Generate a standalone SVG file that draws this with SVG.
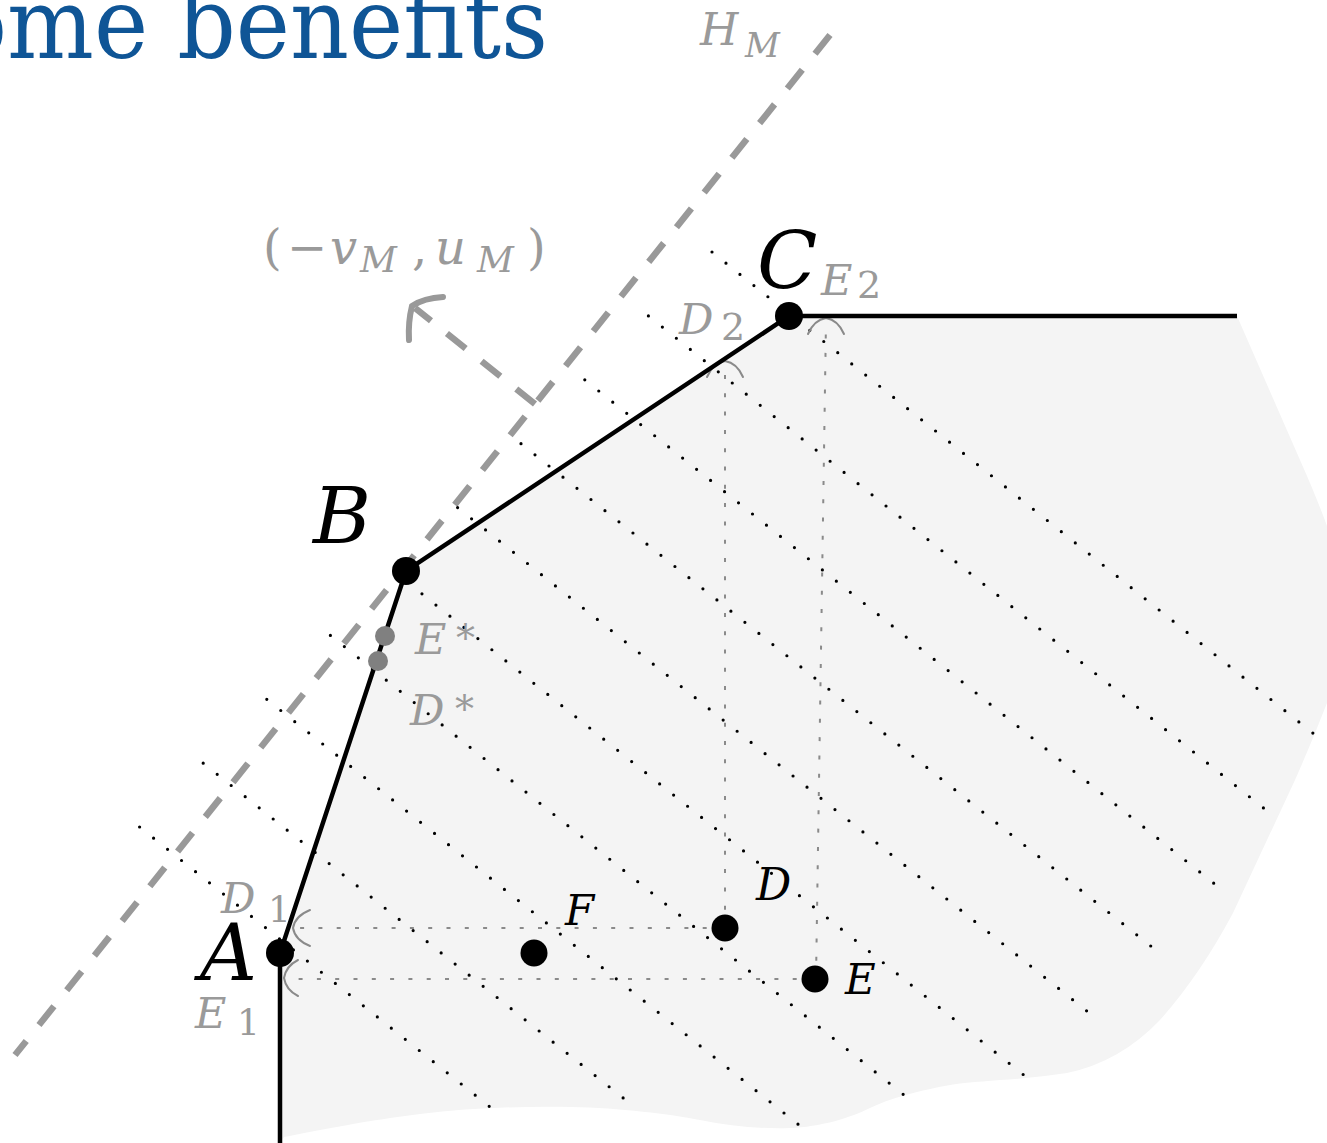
<svg xmlns="http://www.w3.org/2000/svg" width="1327" height="1143" viewBox="0 0 1327 1143">
<style>
text{font-family:"DejaVu Serif","Liberation Serif",serif}
.it{font-style:italic}
.blk{fill:#000}
.gry{fill:#9a9a9a}
.dotk{fill:none;stroke:#000;stroke-width:3.2;stroke-linecap:round;stroke-dasharray:0 17.9}
.dotg{fill:none;stroke:#8a8a8a;stroke-width:2;stroke-dasharray:4 14.3}
.tip{fill:none;stroke:#8a8a8a;stroke-width:2;stroke-linecap:round}
.dash{fill:none;stroke:#999;stroke-width:6.5;stroke-dasharray:24 20.4}
</style>
<rect width="1327" height="1143" fill="#fff"/>
<text x="-48" y="58" font-size="100" fill="#0f5596" textLength="596" lengthAdjust="spacingAndGlyphs">ome benefits</text>

<g id="region">
<path d="M280,953 L406,571 L789,316 L1237,316 L1300,460 Q1320,505 1332,540 L1332,690 Q1315,735 1295,780 L1233,913 Q1200,975 1160,1020 Q1120,1062 1067,1073 Q1035,1078 1000,1080 C975,1082 958,1083 939,1087 S890,1098 870,1108 S820,1127 790,1128 S730,1126 700,1120 S620,1108 571,1107 S470,1108 420,1114 S320,1130 284,1137 L280,1143 Z" fill="#f4f4f4"/>
</g>

<g id="connectors">
<path id="HM" class="dash" d="M830,35 L15,1055"/>
<g id="levels">
<path class="dotk" d="M712,252 L1314,734"/>
<path class="dotk" d="M648.4,315.9 L1266,810"/>
<path class="dotk" d="M584.8,379.8 L1216,885"/>
<path class="dotk" d="M521,443.7 L1152,947"/>
<path class="dotk" d="M457.6,507.6 L1088,1012"/>
<path class="dotk" d="M394,571.5 L1025,1076"/>
<path class="dotk" d="M330.4,635.4 L904,1095"/>
<path class="dotk" d="M266.8,699.3 L799,1125"/>
<path class="dotk" d="M203.2,763.2 L637,1109"/>
<path class="dotk" d="M139.6,827 L490,1107"/>
</g>
<g id="projections">
<path class="dotg" d="M725,928 L296,928"/>
<path class="dotg" d="M815,979 L286,979"/>
<path class="dotg" d="M725,928 L725,364"/>
<path class="dotg" d="M816,979 L826,321"/>
<path class="tip" d="M310,910 Q295,916 293,928 Q295,940 310,946"/>
<path class="tip" d="M298,960 Q286,966 284,978 Q286,990 298,996"/>
<path class="tip" d="M707,377 Q713,363 725,361 Q737,363 743,377"/>
<path class="tip" d="M808,334 Q814,320 826,318 Q838,320 844,334"/>
</g>
<g id="normal">
<path class="dash" d="M535,404 L415,308"/>
<path d="M443,297 Q424,298 412,306 Q408,322 409,340" fill="none" stroke="#999" stroke-width="6" stroke-linecap="round"/>
</g>
<path id="boundary" d="M280,1143 L280,953 L406,571 L789,316 L1237,316" fill="none" stroke="#000" stroke-width="4.5"/>
</g>

<g id="nodeA"><circle cx="280" cy="953" r="14" fill="#000"/><text x="200" y="980" class="it blk" font-size="79">A</text></g>
<g id="nodeB"><circle cx="406" cy="571" r="14" fill="#000"/><text x="313" y="543" class="it blk" font-size="79">B</text></g>
<g id="nodeC"><circle cx="789" cy="316" r="14" fill="#000"/><text x="757" y="288" class="it blk" font-size="79">C</text></g>
<g id="nodeF"><circle cx="534" cy="953" r="13.5" fill="#000"/><text x="565" y="925" class="it blk" font-size="42">F</text></g>
<g id="nodeD"><circle cx="725" cy="928" r="13.5" fill="#000"/><text x="756" y="900" class="it blk" font-size="44">D</text></g>
<g id="nodeE"><circle cx="815" cy="979" r="13.5" fill="#000"/><text x="845" y="994" class="it blk" font-size="42">E</text></g>
<g id="nodeEstar"><circle cx="385" cy="636" r="10" fill="#808080"/><text x="415" y="654" class="it gry" font-size="43">E</text><text x="456" y="651" class="gry" font-size="38">*</text></g>
<g id="nodeDstar"><circle cx="378" cy="661" r="10" fill="#808080"/><text x="410" y="725" class="it gry" font-size="43">D</text><text x="455" y="722" class="gry" font-size="38">*</text></g>

<g id="labels">
<text x="700" y="45" class="it gry" font-size="44">H</text><text x="745" y="57" class="it gry" font-size="34">M</text>
<text x="821" y="295" class="it gry" font-size="43">E</text><text x="857" y="298" class="gry" font-size="38">2</text>
<text x="679" y="334" class="it gry" font-size="43">D</text><text x="721" y="340" class="gry" font-size="38">2</text>
<text x="221" y="913" class="it gry" font-size="43">D</text><text x="268" y="922" class="gry" font-size="36">1</text>
<text x="195" y="1028" class="it gry" font-size="43">E</text><text x="237" y="1035" class="gry" font-size="36">1</text>
<text x="263" y="264" class="gry" font-size="48">(</text>
<text x="287" y="264" class="gry" font-size="48">−</text>
<text x="330" y="264" class="it gry" font-size="48">v</text>
<text x="360" y="272" class="it gry" font-size="36">M</text>
<text x="412" y="264" class="gry" font-size="48">,</text>
<text x="435" y="264" class="it gry" font-size="48">u</text>
<text x="477" y="272" class="it gry" font-size="36">M</text>
<text x="527" y="264" class="gry" font-size="48">)</text>
</g>
</svg>
